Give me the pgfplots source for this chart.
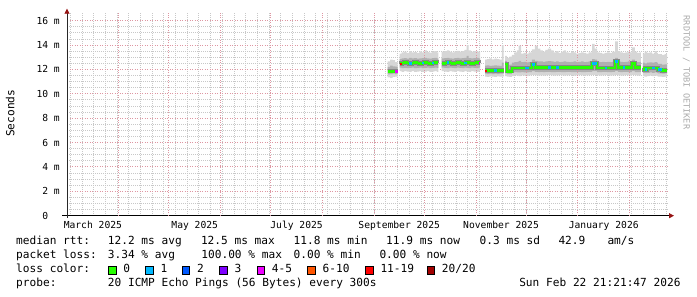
\documentclass[border=0pt]{standalone}
\usepackage{pgfplots}
\pgfplotsset{compat=1.18}
\usepackage{pgfplotstable}
\usepgfplotslibrary{fillbetween}
\usetikzlibrary{arrows.meta}
\usepackage{fontspec}
\newfontfamily\rrd{DejaVu Sans Mono}
\newcommand{\ticfont}{\rrd\fontsize{9.7pt}{11pt}\selectfont}
\newcommand{\legfont}{\rrd\fontsize{11.2pt}{13pt}\selectfont}

\definecolor{mgrid}{RGB}{222,150,162}
\definecolor{gridc}{RGB}{200,200,200}
\definecolor{arrowc}{RGB}{150,20,20}
\definecolor{axisc}{RGB}{40,40,40}
\definecolor{smk1}{RGB}{214,214,214}
\definecolor{smk2}{RGB}{176,176,176}
\definecolor{smk3}{RGB}{135,135,135}
\definecolor{lc0}{HTML}{26FF00}
\definecolor{lc1}{HTML}{00B8FF}
\definecolor{lc2}{HTML}{0059FF}
\definecolor{lc3}{HTML}{7E00FF}
\definecolor{lc4}{HTML}{EE00FF}
\definecolor{lc6}{HTML}{FF5500}
\definecolor{lc11}{HTML}{FF0000}
\definecolor{lc20}{HTML}{A10000}

% d = days since 1 March 2025; values in ms
\pgfplotstableread{
d mn lo med hi mx
192.0 11.35 11.60 11.85 12.20 12.65
193.5 11.30 11.62 11.85 12.30 12.80
195.0 11.38 11.65 11.85 12.25 12.75
196.5 11.40 11.62 11.85 12.22 12.60
198.0 11.40 11.62 11.85 12.22 12.60
}\segA
\pgfplotstableread{
d mn lo med hi mx
199.2 11.85 12.15 12.45 12.85 13.30
200.5 11.80 12.10 12.52 12.90 13.40
202.0 11.85 12.12 12.55 12.92 13.45
203.5 11.82 12.10 12.52 12.88 13.35
205.0 11.80 12.12 12.50 12.95 13.50
206.5 11.85 12.15 12.52 12.90 13.40
208.0 11.80 12.10 12.55 12.92 13.42
209.5 11.82 12.12 12.52 12.88 13.35
211.0 11.85 12.15 12.50 12.90 13.48
212.5 11.80 12.10 12.52 12.92 13.40
214.0 11.82 12.12 12.55 12.95 13.55
215.5 11.85 12.15 12.52 12.90 13.42
217.0 11.80 12.10 12.50 12.88 13.38
218.5 11.82 12.12 12.52 12.92 13.45
220.0 11.85 12.15 12.55 12.95 13.50
221.5 11.80 12.12 12.52 12.90 13.40
222.4 11.80 12.12 12.52 12.90 13.40
}\segB
\pgfplotstableread{
d mn lo med hi mx
224.4 11.85 12.15 12.50 12.90 13.45
226.0 11.82 12.12 12.52 12.92 13.50
227.5 11.80 12.10 12.55 12.95 13.55
229.0 11.85 12.15 12.52 12.90 13.45
230.5 11.82 12.12 12.50 12.88 13.40
232.0 11.80 12.10 12.52 12.92 13.48
233.5 11.85 12.15 12.55 12.95 13.52
235.0 11.82 12.12 12.52 12.90 13.45
236.5 11.80 12.10 12.50 12.92 13.50
238.0 11.85 12.15 12.52 12.95 13.60
239.4 11.82 12.12 12.55 13.10 14.00
240.5 11.80 12.10 12.52 12.92 13.55
242.0 11.85 12.15 12.50 12.90 13.45
243.5 11.82 12.12 12.52 12.92 13.50
245.0 11.80 12.10 12.55 12.95 13.48
246.5 11.85 12.15 12.52 12.90 13.42
247.4 11.85 12.15 12.52 12.90 13.42
}\segC
\pgfplotstableread{
d mn lo med hi mx
250.4 11.40 11.65 11.88 12.30 12.80
251.5 11.38 11.62 11.90 12.32 12.85
253.0 11.42 11.65 11.90 12.28 12.90
254.5 11.40 11.62 11.88 12.30 12.82
256.0 11.38 11.65 11.90 12.32 12.88
257.5 11.42 11.62 11.92 12.30 12.85
259.0 11.40 11.65 11.90 12.28 12.80
260.5 11.40 11.65 11.90 12.55 14.00
261.6 11.40 11.65 11.90 12.55 14.00
}\segD
\pgfplotstableread{
d mn lo med hi mx
262.4 11.45 11.70 12.45 12.70 13.10
263.5 11.40 11.62 11.85 12.35 12.95
265.0 11.38 11.62 11.85 12.40 13.05
266.5 11.45 11.75 12.10 12.55 13.20
268.0 11.50 11.78 12.12 12.60 13.40
269.5 11.48 11.75 12.10 12.62 13.55
270.5 11.45 11.75 12.10 12.70 13.95
272.0 11.50 11.78 12.12 12.60 13.30
273.5 11.48 11.75 12.10 12.62 13.35
275.0 11.45 11.75 12.10 12.58 13.30
276.5 11.50 11.78 12.12 12.60 13.40
278.5 11.55 11.85 12.40 12.80 13.65
280.3 11.50 11.80 12.15 12.70 13.95
282.0 11.48 11.78 12.15 12.65 13.70
283.5 11.50 11.80 12.17 12.65 13.55
285.0 11.48 11.78 12.15 12.62 13.45
286.5 11.50 11.80 12.15 12.65 13.60
288.0 11.52 11.80 12.17 12.68 13.70
290.0 11.50 11.78 12.15 12.65 13.55
291.5 11.48 11.78 12.15 12.62 13.40
293.0 11.50 11.80 12.17 12.65 13.50
294.5 11.52 11.80 12.17 12.60 13.35
296.0 11.50 11.78 12.15 12.62 13.45
297.5 11.48 11.78 12.17 12.65 13.55
299.0 11.50 11.80 12.17 12.62 13.40
300.5 11.52 11.80 12.15 12.60 13.35
302.0 11.50 11.78 12.17 12.62 13.45
303.5 11.48 11.78 12.17 12.65 13.40
305.0 11.50 11.80 12.17 12.60 13.30
306.5 11.52 11.80 12.17 12.62 13.35
308.0 11.50 11.78 12.15 12.65 13.40
309.5 11.48 11.78 12.17 12.60 13.35
311.0 11.50 11.80 12.17 12.62 13.30
312.5 11.52 11.80 12.17 12.65 13.40
314.5 11.55 11.85 12.50 12.85 14.10
316.0 11.55 11.85 12.50 12.80 13.70
317.5 11.50 11.78 12.12 12.62 13.40
319.0 11.48 11.78 12.12 12.60 13.35
320.5 11.50 11.80 12.12 12.62 13.30
322.0 11.52 11.80 12.12 12.60 13.35
323.5 11.50 11.78 12.12 12.62 13.40
325.0 11.48 11.78 12.12 12.60 13.35
326.5 11.50 11.80 12.12 12.62 13.45
328.3 11.55 11.88 12.67 12.95 14.30
330.0 11.50 11.80 12.17 12.65 13.50
331.5 11.48 11.78 12.17 12.62 13.40
333.0 11.50 11.80 12.17 12.60 13.35
334.5 11.52 11.80 12.17 12.62 13.40
336.0 11.50 11.78 12.17 12.65 13.45
337.5 11.48 11.78 12.17 12.62 13.40
338.4 11.55 11.85 12.50 12.80 13.80
340.2 11.50 11.78 12.15 12.62 13.45
341.5 11.48 11.78 12.15 12.60 13.35
343.0 11.50 11.80 12.15 12.62 13.40
343.8 11.50 11.80 12.15 12.62 13.40
}\segE
\pgfplotstableread{
d mn lo med hi mx
345.0 11.45 11.72 12.10 12.55 13.30
346.0 11.40 11.70 11.97 12.50 13.45
347.5 11.45 11.72 12.10 12.55 13.35
349.0 11.48 11.75 12.10 12.58 13.40
350.5 11.45 11.72 12.10 12.55 13.30
352.0 11.48 11.75 12.12 12.60 13.50
353.4 11.45 11.72 12.10 12.55 13.35
354.0 11.40 11.68 11.97 12.45 13.25
356.4 11.38 11.65 11.90 12.40 13.20
358.0 11.40 11.68 11.90 12.42 13.25
359.4 11.40 11.68 11.90 12.42 13.25
}\segF

\newcommand{\smokeseg}[2]{%
  \addplot[draw=none, const plot, name path=mx#2] table[x=d,y=mx]{#1};
  \addplot[draw=none, const plot, name path=mn#2] table[x=d,y=mn]{#1};
  \addplot[fill=smk1, draw=none] fill between[of=mx#2 and mn#2];
  \addplot[draw=none, const plot, name path=hi#2] table[x=d,y=hi]{#1};
  \addplot[draw=none, const plot, name path=lo#2] table[x=d,y=lo]{#1};
  \addplot[fill=smk2, draw=none] fill between[of=hi#2 and lo#2];
  \addplot[const plot, draw=smk3, line width=4.5bp] table[x=d,y=med]{#1};
  \addplot[const plot, draw=lc0, line width=2.6bp] table[x=d,y=med]{#1};
}
\newcommand{\lossseg}[4]{% color, x1, x2, y
  \addplot[draw=#1, line width=2.6bp] coordinates {(#2,#4) (#3,#4)};
}

\begin{document}
\begin{tikzpicture}
\begin{axis}[
  at={(67bp,81.3bp)}, anchor=south west,
  scale only axis, width=601bp, height=203bp,
  xmin=0, xmax=360, ymin=0, ymax=16.65,
  axis lines=left,
  x axis line style={draw=black, line width=0.8bp, shorten <=-5bp, shorten >=-6bp,
     -{Triangle[length=5bp,width=5bp,color=arrowc,fill=arrowc]}},
  y axis line style={draw=axisc, line width=0.8bp, shorten <=-2bp, shorten >=-4bp,
     -{Triangle[length=5bp,width=5bp,color=arrowc,fill=arrowc]}},
  xtick={0,31,61,92,122,153,184,214,245,275,306,337},
  xticklabels={},
  minor xtick={2,9,...,359},
  extra x ticks={15.5,76.5,137.5,199.0,260.0,321.5},
  extra x tick labels={March 2025,May 2025,July 2025,September 2025,November 2025,January 2026},
  extra x tick style={major tick length=0pt},
  ytick={0,2,4,6,8,10,12,14,16},
  yticklabels={0\phantom{xx},2 m,4 m,6 m,8 m,10 m,12 m,14 m,16 m},
  minor y tick num=3,
  xmajorgrids=false, ymajorgrids=true, xminorgrids=true, yminorgrids=true,
  major grid style={draw=mgrid, line width=1bp, dash pattern=on 1bp off 1.5bp},
  minor grid style={draw=gridc, line width=0.8bp, dash pattern=on 1bp off 1bp},
  major tick length=0pt,
  minor tick length=0pt,
  every tick label/.append style={font=\ticfont},
  xticklabel style={anchor=north, inner sep=0pt, yshift=-5.2bp},
  yticklabel style={anchor=east, inner sep=0pt, xshift=-7bp},
]
% month-start grid lines
\pgfplotsinvokeforeach{31,61,92,122,153,184,214,245,275,306,337}{
  \draw[draw=mgrid, line width=1bp, dash pattern=on 1bp off 1.5bp] (axis cs:#1,0) -- (axis cs:#1,16.65);
}
\smokeseg{\segA}{a}
\smokeseg{\segB}{b}
\smokeseg{\segC}{c}
\smokeseg{\segD}{d}
\smokeseg{\segE}{e}
\smokeseg{\segF}{f}
% loss colours on the median line
\lossseg{lc4}{196.5}{198.0}{11.85}
\lossseg{lc11}{199.2}{200.5}{12.45}
\lossseg{lc1}{205.0}{206.5}{12.50}
\lossseg{lc1}{212.5}{214.0}{12.52}
\lossseg{lc1}{218.5}{220.0}{12.52}
\lossseg{lc1}{227.5}{229.0}{12.55}
\lossseg{lc1}{238.0}{239.4}{12.52}
\lossseg{lc4}{246.5}{247.4}{12.52}
\lossseg{lc11}{250.4}{251.5}{11.88}
\lossseg{lc1}{256.0}{257.5}{11.90}
\lossseg{lc1}{274.3}{276.5}{12.10}
\lossseg{lc1}{278.5}{280.3}{12.40}
\lossseg{lc1}{288.0}{290.0}{12.17}
\lossseg{lc1}{293.0}{294.5}{12.17}
\lossseg{lc1}{314.5}{317.5}{12.50}
\lossseg{lc1}{322.0}{323.5}{12.12}
\lossseg{lc1}{328.3}{330.0}{12.67}
\lossseg{lc1}{333.0}{334.5}{12.17}
\lossseg{lc1}{346.0}{347.5}{11.97}
\lossseg{lc1}{350.5}{352.0}{12.10}
\lossseg{lc1}{354.0}{356.4}{11.97}
\end{axis}

% axis title and watermark
\node[rotate=90, font=\legfont] at (10.3bp,183.7bp) {Seconds};
\node[rotate=-90, font=\rrd\fontsize{8.6pt}{10pt}\selectfont, text=black!33] at (686.5bp,224.5bp) {RRDTOOL / TOBI OETIKER};

% legend lines
\begin{scope}[every node/.style={anchor=base west, inner sep=0pt, font=\legfont}]
\node at (16bp,52bp) {median rtt:};
\node at (107.7bp,52bp) {12.2 ms avg};
\node at (200.8bp,52bp) {12.5 ms max};
\node at (293.4bp,52bp) {11.8 ms min};
\node at (386bp,52bp) {11.9 ms now};
\node at (479.5bp,52bp) {0.3 ms sd};
\node at (558.3bp,52bp) {42.9};
\node at (607.3bp,52bp) {am/s};

\node at (16bp,38.3bp) {packet loss:};
\node at (107.7bp,38.3bp) {3.34 \% avg};
\node at (201.2bp,38.3bp) {100.00 \% max};
\node at (293.4bp,38.3bp) {0.00 \% min};
\node at (379.3bp,38.3bp) {0.00 \% now};

\node at (16bp,24.3bp) {loss color:};
\node at (123.1bp,24.3bp) {0};
\node at (160.4bp,24.3bp) {1};
\node at (196.8bp,24.3bp) {2};
\node at (234.3bp,24.3bp) {3};
\node at (271.7bp,24.3bp) {4-5};
\node at (322.4bp,24.3bp) {6-10};
\node at (380.3bp,24.3bp) {11-19};
\node at (441.7bp,24.3bp) {20/20};

\node at (16bp,10.3bp) {probe:};
\node at (107.7bp,10.3bp) {20 ICMP Echo Pings (56 Bytes) every 300s};
\node[anchor=base east] at (680.7bp,10.3bp) {Sun Feb 22 21:21:47 2026};
\end{scope}
\begin{scope}[line width=0.6bp, draw=black]
\filldraw[fill=lc0] (108.3bp,23bp) rectangle (116bp,31bp);
\filldraw[fill=lc1] (145.6bp,23bp) rectangle (153.3bp,31bp);
\filldraw[fill=lc2] (182bp,23bp) rectangle (189.7bp,31bp);
\filldraw[fill=lc3] (219.5bp,23bp) rectangle (227.2bp,31bp);
\filldraw[fill=lc4] (256.9bp,23bp) rectangle (264.6bp,31bp);
\filldraw[fill=lc6] (307.6bp,23bp) rectangle (315.3bp,31bp);
\filldraw[fill=lc11] (365.5bp,23bp) rectangle (373.2bp,31bp);
\filldraw[fill=lc20] (426.9bp,23bp) rectangle (434.6bp,31bp);
\end{scope}
\pgfresetboundingbox
\path[use as bounding box] (0,0) rectangle (697bp,297bp);
\end{tikzpicture}
\end{document}
